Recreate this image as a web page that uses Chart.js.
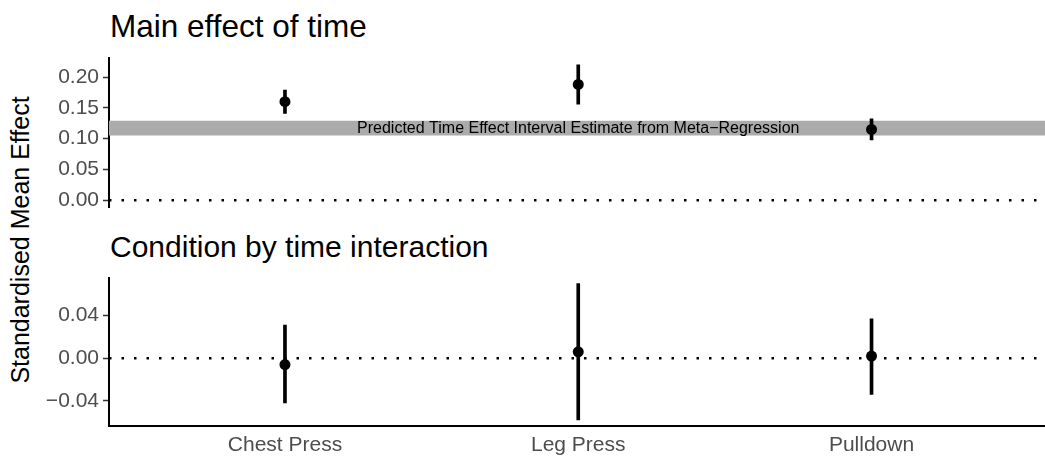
<!DOCTYPE html>
<html>
<head>
<meta charset="utf-8">
<script src="https://cdn.jsdelivr.net/npm/chart.js@4/dist/chart.umd.min.js"></script>
<style>
  html, body { margin: 0; padding: 0; background: #fff; overflow: hidden; }
  body { width: 1045px; height: 458px; position: relative; font-family: "Liberation Sans", Arial, sans-serif; }
  .panel-title { position: absolute; left: 110px; color: #000; white-space: nowrap; }
  #ytitle { position: absolute; left: 20px; top: 240px; font-size: 25px; line-height: 25px; color: #000;
            white-space: nowrap; transform: translate(-50%, -50%) rotate(-90deg); }
  .wrap { position: absolute; left: 0; width: 1053px; }
</style>
</head>
<body>
<div class="panel-title" style="top:11px; font-size:31.5px; line-height:31.5px">Main effect of time</div>
<div class="panel-title" style="top:232px; font-size:30px; line-height:30px">Condition by time interaction</div>
<div id="ytitle">Standardised Mean Effect</div>
<div class="wrap" style="top:0; height:215px"><canvas id="top" width="1053" height="215" style="width:1053px;height:215px"></canvas></div>
<div class="wrap" style="top:215px; height:243px"><canvas id="bottom" width="1053" height="243" style="width:1053px;height:243px"></canvas></div>
<script>
// Exercises on the x axis
const categories = ["Chest Press", "Leg Press", "Pulldown"];

// Main effect of time: estimate with interval
const mainEst   = [0.160, 0.188, 0.115];
const mainLower = [0.141, 0.156, 0.098];
const mainUpper = [0.179, 0.220, 0.132];

// Condition by time interaction: estimate with interval
const interEst   = [-0.006, 0.006, 0.002];
const interLower = [-0.042, -0.058, -0.034];
const interUpper = [0.031, 0.070, 0.037];

// Predicted time effect band from the meta-regression
const bandLower = 0.105;
const bandUpper = 0.129;
const bandLabel = "Predicted Time Effect Interval Estimate from Meta\u2212Regression";

// Axis ticks
const topTicks = [0, 0.05, 0.10, 0.15, 0.20];
const bottomTicks = [-0.04, 0, 0.04];

const X_MIN = -0.6, X_MAX = 2.6;
const FONT = "'Liberation Sans', Arial, sans-serif";

function fmt(v) {
  const s = Math.abs(v).toFixed(2);
  return v < -1e-9 ? "\u2212" + s : s;
}

function pointData(est) { return est.map((v, i) => ({ x: i, y: v })); }
function barData(lo, hi) { return lo.map((v, i) => ({ x: i, y: [v, hi[i]] })); }
function hline(y) { return [{ x: X_MIN, y: y }, { x: X_MAX, y: y }]; }

// Writes the band caption at a data position through the chart scales
const bandText = {
  id: 'bandText',
  afterDatasetsDraw(chart, args, opts) {
    if (!opts.text) return;
    const { ctx, scales } = chart;
    ctx.save();
    ctx.font = opts.font;
    ctx.fillStyle = '#000';
    ctx.textAlign = 'center';
    ctx.textBaseline = 'middle';
    ctx.fillText(opts.text, scales.x.getPixelForValue(opts.x), scales.y.getPixelForValue(opts.y));
    ctx.restore();
  }
};

function makeChart(id, cfg) {
  const datasets = [
    { type: 'scatter', data: pointData(cfg.est), pointRadius: 5.5, pointHoverRadius: 5.5,
      backgroundColor: '#000', borderWidth: 0, order: 0 },
    { type: 'bar', data: barData(cfg.lo, cfg.hi), backgroundColor: '#000', borderWidth: 0,
      barThickness: 3, grouped: false, order: 1 },
    { type: 'line', data: hline(0), borderColor: '#000', borderWidth: 2.5, borderDash: [2.5, 10],
      borderCapStyle: 'butt', pointRadius: 0, fill: false, order: 2 }
  ];
  if (cfg.band) {
    datasets.push({ type: 'line', data: hline(cfg.band[1]), borderWidth: 0, pointRadius: 0,
      backgroundColor: '#ABABAB', fill: { value: cfg.band[0] }, order: 3 });
  }
  return new Chart(document.getElementById(id), {
    type: 'scatter',
    data: { datasets },
    options: {
      responsive: false,
      animation: false,
      devicePixelRatio: 1,
      layout: { padding: cfg.padding },
      plugins: {
        legend: { display: false },
        tooltip: { enabled: false },
        bandText: cfg.bandText || {}
      },
      scales: {
        x: {
          type: 'linear', min: X_MIN, max: X_MAX, offset: false,
          display: cfg.showX,
          afterBuildTicks: s => { s.ticks = categories.map((c, i) => ({ value: i })); },
          afterFit: s => { s.height = cfg.showX ? 32 : 0; s.paddingLeft = 0; s.paddingRight = 0; },
          grid: { display: true, drawOnChartArea: false, drawTicks: false },
          border: { display: true, color: '#000', width: 2 },
          ticks: { padding: 7, color: '#4D4D4D', font: { family: FONT, size: 21 },
                   maxRotation: 0, autoSkip: false, callback: v => categories[v] }
        },
        y: {
          type: 'linear', min: cfg.yMin, max: cfg.yMax,
          afterBuildTicks: s => { s.ticks = cfg.ticks.map(v => ({ value: v })); },
          afterFit: s => { s.width = 109; s.paddingTop = 0; s.paddingBottom = 0; },
          grid: { display: true, drawOnChartArea: false, drawTicks: true, tickLength: 6,
                  tickColor: '#333', tickWidth: 1.5 },
          border: { display: true, color: '#000', width: 2 },
          ticks: { padding: 4, color: '#4D4D4D', font: { family: FONT, size: 21 }, callback: v => fmt(v) }
        }
      }
    },
    plugins: [bandText]
  });
}

makeChart('top', {
  est: mainEst, lo: mainLower, hi: mainUpper,
  band: [bandLower, bandUpper],
  bandText: { text: bandLabel, x: 1, y: (bandLower + bandUpper) / 2, font: "16px " + FONT },
  yMin: -0.011, yMax: 0.231, ticks: topTicks, showX: false,
  padding: { top: 58, bottom: 8, left: 0, right: 0 }
});

makeChart('bottom', {
  est: interEst, lo: interLower, hi: interUpper,
  yMin: -0.0637, yMax: 0.0753, ticks: bottomTicks, showX: true,
  padding: { top: 63, bottom: 0, left: 0, right: 0 }
});
</script>
</body>
</html>
